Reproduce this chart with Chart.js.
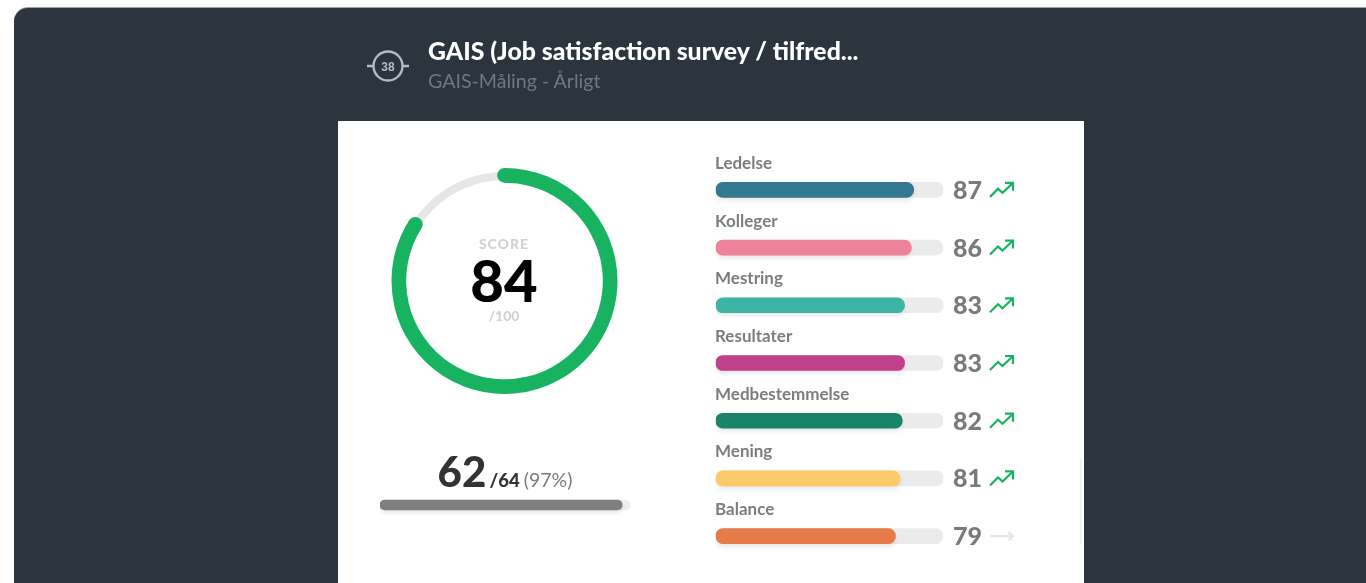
<!DOCTYPE html>
<html><head><meta charset="utf-8">
<script src="https://cdn.jsdelivr.net/npm/chart.js@4"></script>
<style>
html,body{margin:0;padding:0;width:1366px;height:583px;overflow:hidden;background:#fff;font-family:Lato,sans-serif}
#root{position:absolute;left:0;top:0;width:1366px;height:583px;overflow:hidden;filter:blur(.35px)}
#panel{position:absolute;left:14px;top:8px;width:1400px;height:620px;background:#2c343e;border-radius:14px;box-shadow:0 -1px 0 #9a9da3}
#card{position:absolute;left:338px;top:121px;width:746px;height:462px;background:#fff}
#scroll{position:absolute;left:1080px;top:458px;width:2px;height:87px;background:#f1f1f3;border-radius:2px 0 0 2px}
.t{position:absolute;white-space:nowrap}
canvas{position:absolute}
#gaugeWrap,#gaugeTrackWrap,#respWrap,#barsWrap{position:absolute}
#gaugeWrap,#gaugeTrackWrap{left:384px;top:161px;width:241px;height:240px}
#respWrap{left:380px;top:495px;width:250px;height:20px}
#barsWrap{left:700px;top:150px;width:340px;height:425px}
</style></head><body><div id="root">
<div id="panel"></div>
<div id="card"></div>
<div id="scroll"></div>
<svg class="t" style="left:364px;top:46px" width="48" height="40" viewBox="0 0 48 40">
<circle cx="24" cy="20" r="14.500" fill="none" stroke="#b4bac6" stroke-width="2.400"/>
<path d="M3 20H9.500M38.500 20H45" stroke="#b4bac6" stroke-width="2.400"/>
<text x="24" y="24.500" text-anchor="middle" font-family="Liberation Sans" font-weight="700" font-size="12" fill="#b4bac6">38</text>
</svg>
<div class="t" id="title" style="left:428px;top:36px;font-size:24.800px;line-height:30px;font-weight:900;color:#fff"></div>
<div class="t" id="sub" style="left:428px;top:69px;font-size:19.600px;line-height:24px;color:#6f7684"></div>
<div id="gaugeTrackWrap"><canvas id="gaugeTrack"></canvas></div>
<div id="gaugeWrap"><canvas id="gauge"></canvas></div>
<div class="t" id="scoreLabel" style="left:404px;width:200px;text-align:center;top:236px;font-size:14px;line-height:16px;font-weight:900;letter-spacing:1px;color:#d2d2d6"></div>
<div class="t" id="scoreValue" style="left:404px;width:200px;text-align:center;top:247px;font-size:58px;line-height:66px;font-weight:900;color:#000"></div>
<div class="t" id="scoreMax" style="left:404px;width:200px;text-align:center;top:308px;font-size:14px;line-height:16px;font-weight:900;color:#d2d2d6"></div>
<div class="t" style="left:380px;width:250px;text-align:center;top:444px;line-height:54px;color:#333">
<span id="respN" style="font-size:42px;font-weight:900"></span> <span id="respT" style="font-size:18.500px;font-weight:900;margin-left:-1px"></span> <span id="respP" style="font-size:19.500px;color:#7d7d7d;margin-left:0"></span></div>
<div id="respWrap"><canvas id="resp"></canvas></div>
<div id="barsWrap"><canvas id="bars"></canvas></div>
</div>
<script>
const titleText = "GAIS (Job satisfaction survey / tilfred...";
const subtitleText = "GAIS-Måling - Årligt";
const scoreCaption = "SCORE";
const score = 84;
const scoreMaximum = 100;
const responses = 62;
const invited = 64;
const categories = ["Ledelse","Kolleger","Mestring","Resultater","Medbestemmelse","Mening","Balance"];
const values = [87,86,83,83,82,81,79];
const trends = ["up","up","up","up","up","up","flat"];
const barColors = ["#33788f","#ee829a","#3cb4a6","#c0408c","#1a8469","#fdc96a","#e67b4a"];
const green = "#17b360", trackGray = "#ebebeb";

document.getElementById('title').textContent = titleText;
document.getElementById('sub').textContent = subtitleText;
document.getElementById('scoreLabel').textContent = scoreCaption;
document.getElementById('scoreValue').textContent = score;
document.getElementById('scoreMax').textContent = "/" + scoreMaximum;
document.getElementById('respN').textContent = responses;
document.getElementById('respT').textContent = "/" + invited;
document.getElementById('respP').textContent = "(" + Math.round(responses / invited * 100) + "%)";

Chart.defaults.animation = false;
const base = {responsive:true,maintainAspectRatio:false,animation:false,
  plugins:{legend:{display:false},tooltip:{enabled:false},title:{display:false}},
  layout:{padding:0}};

const capPlugin = {id:'caps',afterDatasetsDraw(c){
  const a = c.getDatasetMeta(0).data[0], ctx = c.ctx;
  const r = (a.innerRadius + a.outerRadius) / 2, w = (a.outerRadius - a.innerRadius) / 2;
  ctx.save(); ctx.fillStyle = green;
  [a.startAngle, a.endAngle].forEach(t=>{
    ctx.beginPath(); ctx.arc(a.x + r*Math.cos(t), a.y + r*Math.sin(t), w, 0, Math.PI*2); ctx.fill();
  });
  ctx.restore();
}};
new Chart(document.getElementById('gaugeTrack'),{type:'doughnut',
  data:{labels:["track"],datasets:[{data:[scoreMaximum],backgroundColor:["#e6e6e6"],borderWidth:0}]},
  options:{...base,radius:109,cutout:'92.6%'}});
new Chart(document.getElementById('gauge'),{type:'doughnut',
  data:{labels:["score","rest"],datasets:[{data:[score,scoreMaximum-score],backgroundColor:[green,"rgba(0,0,0,0)"],borderWidth:0}]},
  plugins:[capPlugin],
  options:{...base,radius:113,cutout:'87%'}});

const shadowPlugin = {id:'barShadow',
  beforeDatasetDraw(c,args){ if(args.index===0){const x=c.ctx;x.save();x.shadowColor='rgba(0,0,0,.09)';x.shadowBlur=4;x.shadowOffsetY=3;} },
  afterDatasetDraw(c,args){ if(args.index===0){c.ctx.restore();} }};

new Chart(document.getElementById('resp'),{type:'bar',
  data:{labels:["responses"],datasets:[
    {data:[responses],backgroundColor:"#7f7f7f",order:0},
    {data:[invited],backgroundColor:"#eeeeee",order:1}]},
  plugins:[shadowPlugin],
  options:{...base,indexAxis:'y',
    datasets:{bar:{grouped:false,barThickness:10,borderRadius:5,borderSkipped:false}},
    scales:{x:{display:false,min:0,max:invited},y:{display:false}}}});

const rowPlugin = {id:'rows',afterDatasetsDraw(c){
  const {ctx,scales:{x,y}} = c;
  ctx.save();
  categories.forEach((name,i)=>{
    const cy = y.getPixelForValue(i), x0 = x.getPixelForValue(0), x1 = x.getPixelForValue(100);
    ctx.textBaseline='alphabetic';
    ctx.textAlign='left';
    ctx.font='700 17px Lato'; ctx.fillStyle='#7d7d7d';
    ctx.fillText(name,x0-0.700,cy-21);
    ctx.font='900 25px Lato'; ctx.fillStyle='#7a7a7a';
    ctx.fillText(values[i],x1+9.700,cy+9);
    const ax = x1+46.700;
    ctx.lineWidth=2.200; ctx.lineCap='butt'; ctx.lineJoin='miter';
    if(trends[i]==='up'){
      ctx.strokeStyle=green;
      ctx.beginPath();ctx.moveTo(ax,cy+7);ctx.lineTo(ax+8,cy-1);ctx.lineTo(ax+12.500,cy+3);ctx.lineTo(ax+22,cy-6);ctx.stroke();
      ctx.beginPath();ctx.moveTo(ax+15,cy-7);ctx.lineTo(ax+23,cy-7);ctx.lineTo(ax+23,cy+1);ctx.stroke();
    } else {
      ctx.strokeStyle='#e6e6e6';
      ctx.beginPath();ctx.moveTo(ax,cy);ctx.lineTo(ax+22,cy);ctx.stroke();
      ctx.beginPath();ctx.moveTo(ax+18.500,cy-4);ctx.lineTo(ax+23,cy);ctx.lineTo(ax+18.500,cy+4);ctx.stroke();
    }
  });
  ctx.restore();
}};
new Chart(document.getElementById('bars'),{type:'bar',
  data:{labels:categories,datasets:[
    {data:values,backgroundColor:barColors,order:0},
    {data:categories.map(()=>100),backgroundColor:trackGray,order:1}]},
  plugins:[shadowPlugin,rowPlugin],
  options:{...base,indexAxis:'y',
    layout:{padding:{left:15.700,right:96.700,top:11,bottom:10}},
    datasets:{bar:{grouped:false,barThickness:15,borderRadius:7.500,borderSkipped:false}},
    scales:{x:{display:false,min:0,max:100},y:{display:false}}}});
</script>
</body></html>
